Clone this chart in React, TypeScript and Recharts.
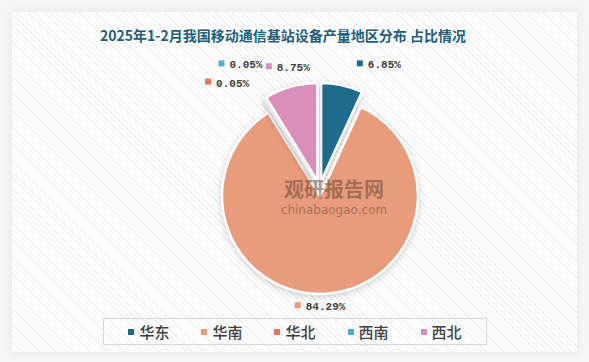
import React from "react";
import { PieChart, Pie, Cell, Legend, Sector } from "recharts";

const regions = ["华东", "华南", "华北", "西南", "西北"];
const shares = [6.85, 84.29, 0.05, 0.05, 8.75];
const colors = ["#1e6b8c", "#e89c7c", "#e8735f", "#4bb3c3", "#da8fbb"];

const TITLE = "2025年1-2月我国移动通信基站设备产量地区分布 占比情况";

const data = regions.map((name, i) => ({ name, value: shares[i] }));

const RAD = Math.PI / 180;
const EXPLODE = 7.6;
const LABEL_R = 128;
// hand-tuned nudges so labels land where the source put them
const LABEL_NUDGE = [
  [32, 2],
  [-7.5, -9],
  [-25, 4],
  [-12, -14],
  [3, 3],
];

const ExplodedSector = (props: any) => {
  const dx = EXPLODE * Math.cos(-props.midAngle * RAD);
  const dy = EXPLODE * Math.sin(-props.midAngle * RAD);
  return <Sector {...props} cx={props.cx + dx} cy={props.cy + dy} />;
};

const renderLabel = (props: any) => {
  const { cx, cy, midAngle, index, value } = props;
  const [nx, ny] = LABEL_NUDGE[index];
  const x = cx + LABEL_R * Math.cos(-midAngle * RAD) + nx;
  const y = cy + LABEL_R * Math.sin(-midAngle * RAD) + ny;
  const text = `${Number(value).toFixed(2)}%`;
  const w = 11 + text.length * 6.6;
  const left = x - w / 2;
  return (
    <g>
      <rect x={left} y={y - 5} width={6} height={6} fill={colors[index]} />
      <text
        x={left + 11}
        y={y}
        dominantBaseline="central"
        fill="#404040"
        fontSize={11}
        fontWeight="bold"
        fontFamily="'Liberation Mono', monospace"
      >
        {text}
      </text>
    </g>
  );
};

const renderLegend = (props: any) => {
  const items = [...(props.payload || [])].sort(
    (a: any, b: any) => regions.indexOf(a.value) - regions.indexOf(b.value)
  );
  return (
    <div
      style={{
        boxSizing: "border-box",
        width: 384,
        height: 27,
        border: "1px solid #d6d6d6",
        display: "flex",
        alignItems: "center",
        justifyContent: "center",
        gap: 32,
        fontFamily: "'Noto Sans CJK SC', sans-serif",
        fontSize: 15,
        fontWeight: 500,
        color: "#404040",
      }}
    >
      {items.map((p: any, i: number) => (
        <div key={i} style={{ display: "flex", alignItems: "center", gap: 5 }}>
          <span style={{ width: 6, height: 6, background: p.color, display: "inline-block" }} />
          <span>{p.value}</span>
        </div>
      ))}
    </div>
  );
};

export default function App() {
  return (
    <div
      style={{
        position: "absolute",
        left: 0,
        top: 0,
        width: 589,
        height: 362,
        background: "#f6f6f6",
        overflow: "hidden",
      }}
    >
      <style>{`.recharts-pie-sector path { filter: drop-shadow(0 2px 3px rgba(0,0,0,0.18)); }`}</style>
      <div
        style={{
          position: "absolute",
          left: 12,
          top: 12,
          width: 565,
          height: 340,
          background:
            "repeating-linear-gradient(45deg, #ffffff 0px, #ffffff 3px, #eeeeee 3px, #eeeeee 4px)",
          boxShadow: "0 0 10px rgba(0,0,0,0.08)",
        }}
      />
      <div
        style={{
          position: "absolute",
          left: 100,
          top: 25,
          whiteSpace: "nowrap",
          fontFamily: "'Noto Sans CJK SC', sans-serif",
          fontWeight: "bold",
          fontSize: 14,
          color: "#215e7c",
          lineHeight: "20px",
        }}
      >
        {TITLE}
      </div>
      <div style={{ position: "absolute", left: 0, top: 0 }}>
        <PieChart width={589} height={362} margin={{ top: 0, right: 0, bottom: 0, left: 0 }}>
          <Pie
            data={data}
            dataKey="value"
            nameKey="name"
            cx={319.5}
            cy={188.4}
            outerRadius={98}
            startAngle={90}
            endAngle={-270}
            stroke="#ffffff"
            strokeWidth={2.5}
            shape={ExplodedSector}
            label={renderLabel}
            labelLine={false}
            isAnimationActive={false}
          >
            {data.map((d, i) => (
              <Cell key={d.name} fill={colors[i]} />
            ))}
          </Pie>
          <Legend
            content={renderLegend}
            wrapperStyle={{ position: "absolute", left: 103, top: 318, width: 384, height: 27 }}
          />
        </PieChart>
      </div>
      <div
        style={{
          position: "absolute",
          left: 278,
          top: 178,
          width: 112,
          textAlign: "center",
          pointerEvents: "none",
          color: "rgba(95,65,50,0.5)",
          fontFamily: "'Noto Sans CJK SC', sans-serif",
        }}
      >
        <div style={{ fontSize: 20, fontWeight: "bold", lineHeight: "22px" }}>观研报告网</div>
        <div style={{ fontSize: 12, lineHeight: "14px", marginTop: 3, fontFamily: "'DejaVu Sans', sans-serif" }}>
          chinabaogao.com
        </div>
      </div>
    </div>
  );
}
